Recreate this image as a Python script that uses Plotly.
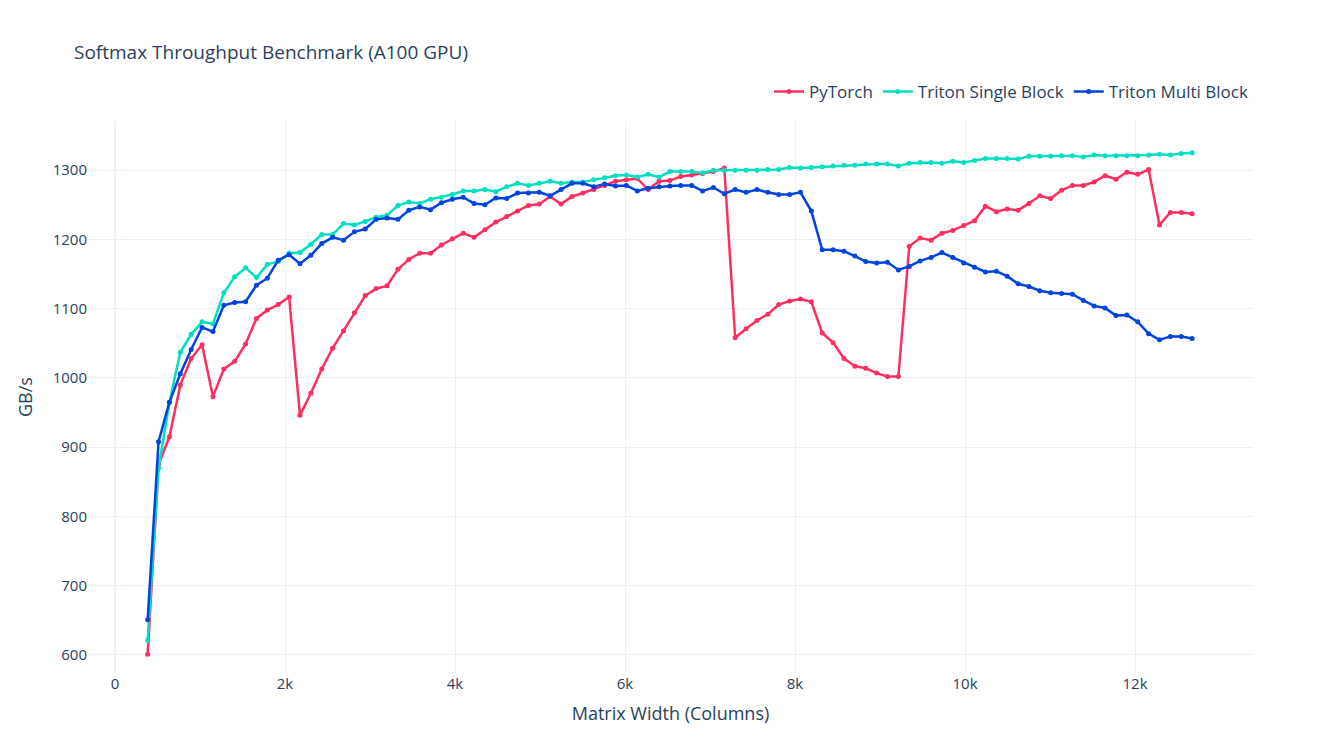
import plotly.graph_objects as go

widths = [384 + 128 * i for i in range(97)]

pytorch = [601, 875, 915, 990, 1028, 1048, 973, 1013, 1024, 1049, 1086, 1098, 1106, 1117, 946, 978,
           1013, 1043, 1068, 1094, 1119, 1129, 1133, 1157, 1171, 1180, 1180, 1192, 1201, 1209, 1203, 1214,
           1225, 1233, 1241, 1249, 1251, 1262, 1251, 1262, 1267, 1272, 1278, 1284, 1286, 1288, 1272, 1284,
           1285, 1291, 1293, 1295, 1298, 1303, 1058, 1071, 1083, 1092, 1106, 1111, 1114, 1110, 1065, 1051,
           1028, 1017, 1014, 1007, 1002, 1002, 1190, 1202, 1199, 1209, 1213, 1220, 1227, 1248, 1240, 1244,
           1242, 1252, 1263, 1259, 1271, 1278, 1278, 1283, 1292, 1287, 1297, 1294, 1301, 1221, 1239, 1239, 1237]

triton_single = [621, 870, 965, 1037, 1063, 1081, 1078, 1123, 1146, 1159, 1145, 1164, 1168, 1180, 1181, 1193,
                 1207, 1207, 1223, 1221, 1226, 1232, 1235, 1249, 1254, 1252, 1258, 1261, 1265, 1270, 1270, 1272,
                 1269, 1276, 1281, 1278, 1281, 1284, 1281, 1283, 1283, 1286, 1289, 1292, 1293, 1290, 1294, 1290,
                 1298, 1298, 1298, 1296, 1300, 1300, 1300, 1300, 1300, 1301, 1301, 1304, 1303, 1304, 1305, 1306,
                 1307, 1307, 1309, 1309, 1309, 1306, 1310, 1311, 1311, 1310, 1313, 1311, 1314, 1317, 1317, 1317,
                 1316, 1320, 1320, 1320, 1321, 1321, 1319, 1322, 1321, 1321, 1321, 1321, 1322, 1323, 1322, 1324, 1325]

triton_multi = [651, 908, 965, 1006, 1041, 1073, 1067, 1105, 1109, 1110, 1134, 1144, 1170, 1178, 1165, 1177,
                1194, 1203, 1199, 1211, 1215, 1229, 1231, 1229, 1242, 1247, 1243, 1253, 1258, 1261, 1252, 1250,
                1260, 1259, 1267, 1267, 1268, 1263, 1272, 1281, 1281, 1276, 1280, 1277, 1278, 1270, 1274, 1276,
                1277, 1278, 1278, 1270, 1275, 1266, 1272, 1268, 1272, 1268, 1265, 1265, 1268, 1241, 1185, 1185,
                1183, 1176, 1168, 1166, 1167, 1156, 1161, 1169, 1174, 1181, 1174, 1166, 1160, 1153, 1154, 1147,
                1136, 1132, 1126, 1123, 1122, 1121, 1112, 1104, 1101, 1090, 1091, 1081, 1064, 1055, 1060, 1060, 1057]

series = [
    ("PyTorch", pytorch, "#ff2e5f"),
    ("Triton Single Block", triton_single, "#00e0c0"),
    ("Triton Multi Block", triton_multi, "#0044dd"),
]

fig = go.Figure()
for name, vals, color in series:
    fig.add_trace(go.Scatter(x=widths, y=vals, name=name, mode="lines+markers",
                             line=dict(color=color, width=2.5), marker=dict(color=color, size=5)))

fig.update_layout(
    template="plotly_white",
    width=1320, height=754,
    title=dict(text="Softmax Throughput Benchmark (A100 GPU)", x=0.05, y=0.95, font=dict(size=19)),
    font=dict(size=15),
    xaxis_title="Matrix Width (Columns)",
    yaxis_title="GB/s",
    legend=dict(orientation="h", x=1, xanchor="right", y=1.02, yanchor="bottom", font=dict(size=17)),
    margin=dict(l=80, r=75, t=113, b=89),
)
fig.update_yaxes(range=[574, 1371], dtick=100)
fig.update_xaxes(range=[-318, 13388])
fig.write_html("out.html")
